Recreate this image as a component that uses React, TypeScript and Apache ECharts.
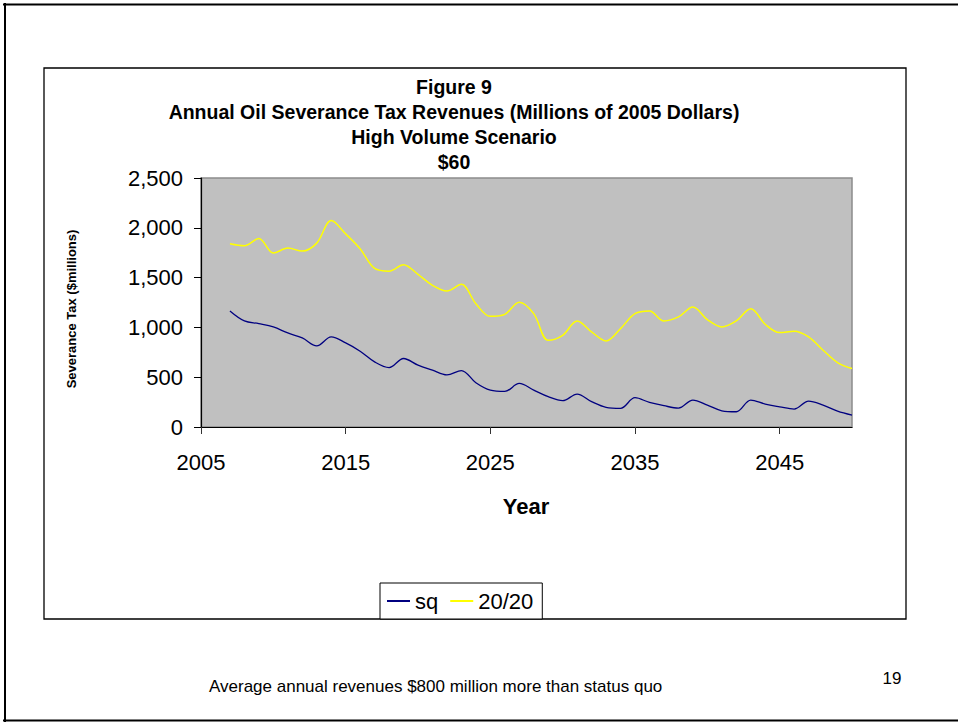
import React, { useEffect, useRef } from "react";
import * as echarts from "echarts";

const years = [
  2007, 2008, 2009, 2010, 2011, 2012, 2013, 2014, 2015, 2016, 2017, 2018, 2019, 2020, 2021,
  2022, 2023, 2024, 2025, 2026, 2027, 2028, 2029, 2030, 2031, 2032, 2033, 2034, 2035, 2036,
  2037, 2038, 2039, 2040, 2041, 2042, 2043, 2044, 2045, 2046, 2047, 2048, 2049, 2050,
];
const sq = [
  1165, 1065, 1038, 1005, 944, 894, 814, 904, 844, 761, 654, 597, 688, 621, 571,
  524, 567, 444, 370, 357, 437, 370, 304, 264, 330, 254, 197, 187, 294, 247,
  214, 190, 270, 220, 163, 153, 270, 230, 203, 180, 260, 220, 160, 120,
];
const twenty = [
  1839, 1819, 1893, 1746, 1796, 1766, 1846, 2073, 1939, 1789, 1592, 1565, 1629, 1532, 1422,
  1365, 1432, 1238, 1111, 1131, 1252, 1138, 871, 921, 1065, 955, 864, 988, 1138, 1165,
  1065, 1105, 1205, 1078, 1005, 1065, 1188, 1032, 948, 961, 904, 771, 647, 587,
];
const xTicks = [2005, 2015, 2025, 2035, 2045];
const titleLines = [
  "Figure 9",
  "Annual Oil Severance Tax Revenues (Millions of 2005 Dollars)",
  "High Volume Scenario",
  "$60",
];
const seriesNames = ["sq", "20/20"];
const yAxisTitle = "Severance Tax ($millions)";
const xAxisTitle = "Year";
const footer = "Average annual revenues $800 million more than status quo";
const pageNumber = "19";

const FONT = "'Liberation Sans', Arial, sans-serif";

export default function App() {
  const ref = useRef<HTMLDivElement>(null);
  useEffect(() => {
    const chart = echarts.init(ref.current!, null, { renderer: "svg" });
    const titleY = [87, 112, 137, 162];
    chart.setOption({
      animation: false,
      backgroundColor: "#ffffff",
      grid: {
        left: 201,
        top: 178,
        width: 651,
        height: 249,
        show: true,
        backgroundColor: "#c0c0c0",
        borderColor: "#8c8c8c",
        borderWidth: 1.5,
      },
      xAxis: {
        type: "value",
        min: 2005,
        max: 2050,
        axisLine: { show: true, onZero: false, lineStyle: { color: "#000", width: 1.2 } },
        axisTick: { show: true, length: 7, customValues: xTicks, lineStyle: { color: "#333" } },
        axisLabel: {
          customValues: xTicks,
          margin: 24,
          fontSize: 22,
          color: "#000",
          fontFamily: FONT,
          formatter: (v: number) => String(v),
        },
        splitLine: { show: false },
      },
      yAxis: {
        type: "value",
        min: 0,
        max: 2500,
        interval: 500,
        axisLine: { show: true, lineStyle: { color: "#000", width: 1.2 } },
        axisTick: { show: true, length: 7, lineStyle: { color: "#000" } },
        axisLabel: {
          margin: 18,
          fontSize: 22,
          color: "#000",
          fontFamily: FONT,
          formatter: (v: number) => v.toLocaleString("en-US"),
        },
        splitLine: { show: false },
      },
      legend: {
        data: seriesNames,
        left: 380,
        top: 583,
        orient: "horizontal",
        icon: "rect",
        itemWidth: 23,
        itemHeight: 2,
        itemGap: 12,
        padding: [7, 9, 7, 7],
        borderColor: "#000",
        borderWidth: 1,
        backgroundColor: "#fff",
        textStyle: { fontSize: 22, color: "#000", fontFamily: FONT },
      },
      series: [
        {
          name: seriesNames[0],
          type: "line",
          data: years.map((y, i) => [y, sq[i]]),
          showSymbol: false,
          smooth: 0.35,
          lineStyle: { color: "#000080", width: 1.3 },
          itemStyle: { color: "#000080" },
          z: 3,
        },
        {
          name: seriesNames[1],
          type: "line",
          data: years.map((y, i) => [y, twenty[i]]),
          showSymbol: false,
          smooth: 0.35,
          lineStyle: { color: "#ffff00", width: 1.5 },
          itemStyle: { color: "#ffff00" },
          z: 2,
        },
      ],
      graphic: [
        { type: "line", shape: { x1: 3, y1: 4.5, x2: 960, y2: 4.5 }, style: { stroke: "#000", lineWidth: 2 } },
        { type: "line", shape: { x1: 5, y1: 3, x2: 5, y2: 722 }, style: { stroke: "#000", lineWidth: 2 } },
        { type: "line", shape: { x1: 3, y1: 720.5, x2: 960, y2: 720.5 }, style: { stroke: "#000", lineWidth: 2 } },
        {
          type: "rect",
          shape: { x: 44, y: 68, width: 862, height: 551 },
          style: { fill: "none", stroke: "#000", lineWidth: 1.3 },
          z: -1,
        },
        ...titleLines.map((t, i) => ({
          type: "text",
          x: 454,
          y: titleY[i],
          style: {
            text: t,
            align: "center",
            verticalAlign: "middle",
            fontSize: 19.5,
            fontWeight: "bold",
            fontFamily: FONT,
            fill: "#000",
          },
        })),
        {
          type: "text",
          x: 71,
          y: 309,
          rotation: Math.PI / 2,
          style: {
            text: yAxisTitle,
            align: "center",
            verticalAlign: "middle",
            fontSize: 13,
            fontWeight: "bold",
            fontFamily: FONT,
            fill: "#000",
          },
        },
        {
          type: "text",
          x: 526,
          y: 506,
          style: {
            text: xAxisTitle,
            align: "center",
            verticalAlign: "middle",
            fontSize: 22,
            fontWeight: "bold",
            fontFamily: FONT,
            fill: "#000",
          },
        },
        {
          type: "text",
          x: 209,
          y: 686,
          style: {
            text: footer,
            align: "left",
            verticalAlign: "middle",
            fontSize: 17,
            fontFamily: FONT,
            fill: "#000",
          },
        },
        {
          type: "text",
          x: 892,
          y: 678,
          style: {
            text: pageNumber,
            align: "center",
            verticalAlign: "middle",
            fontSize: 17,
            fontFamily: FONT,
            fill: "#000",
          },
        },
      ],
    });
    return () => chart.dispose();
  }, []);
  return (
    <div
      ref={ref}
      style={{ position: "absolute", left: 0, top: 0, width: 958, height: 722, background: "#fff" }}
    />
  );
}
